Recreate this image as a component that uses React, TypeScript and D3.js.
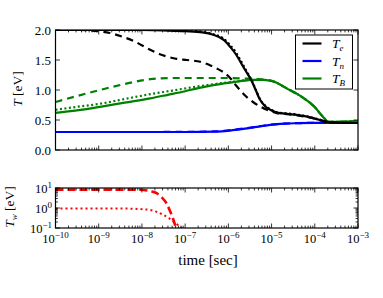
import React from 'react';
import * as d3 from 'd3';

// log10(time [sec]) vs temperature [eV]
const teSolid: [number, number][] = [
  [-10, 2.0], [-9, 2.0], [-8, 2.0], [-7.5, 1.995], [-7, 1.98], [-6.6, 1.96], [-6.35, 1.92],
  [-6.1, 1.83], [-5.96, 1.72], [-5.83, 1.6], [-5.73, 1.48], [-5.6, 1.32], [-5.46, 1.15],
  [-5.35, 0.97], [-5.27, 0.84], [-5.15, 0.73], [-5.03, 0.67], [-4.88, 0.625], [-4.6, 0.6],
  [-4.42, 0.585], [-4.2, 0.56], [-4.04, 0.53], [-3.85, 0.495], [-3.72, 0.47], [-3.5, 0.455], [-3, 0.45],
];
const teDotted: [number, number][] = [
  [-10, 2.0], [-9, 2.0], [-8, 2.0], [-7.5, 2.0], [-7, 1.99], [-6.6, 1.97], [-6.35, 1.93],
  [-6.1, 1.85], [-5.96, 1.75], [-5.83, 1.63], [-5.73, 1.51], [-5.6, 1.34], [-5.46, 1.16],
  [-5.35, 0.98], [-5.27, 0.85], [-5.15, 0.74], [-5.03, 0.68], [-4.88, 0.63], [-4.6, 0.605],
  [-4.42, 0.59], [-4.2, 0.565], [-4.04, 0.535], [-3.85, 0.5], [-3.72, 0.47], [-3.5, 0.455], [-3, 0.45],
];
const teDashed: [number, number][] = [
  [-10, 2.0], [-9.5, 2.0], [-9, 1.98], [-8.74, 1.95], [-8.5, 1.9], [-8.2, 1.82], [-7.81, 1.67],
  [-7.6, 1.6], [-7.43, 1.56], [-7.2, 1.52], [-6.96, 1.5], [-6.65, 1.47], [-6.45, 1.42],
  [-6.27, 1.36], [-6.1, 1.29], [-5.96, 1.2], [-5.85, 1.1], [-5.73, 1.0], [-5.6, 0.9],
  [-5.43, 0.8], [-5.25, 0.72], [-5.11, 0.67], [-4.88, 0.615], [-4.6, 0.595], [-4.3, 0.565],
  [-4.0, 0.525], [-3.75, 0.47], [-3.5, 0.455], [-3, 0.45],
];
const tbSolid: [number, number][] = [
  [-10, 0.62], [-9.5, 0.66], [-8.97, 0.72], [-8.4, 0.79], [-7.81, 0.86], [-7.4, 0.92],
  [-7, 0.98], [-6.7, 1.03], [-6.35, 1.08], [-6.1, 1.11], [-5.8, 1.14], [-5.43, 1.17],
  [-5.2, 1.17], [-5.03, 1.155], [-4.88, 1.12], [-4.73, 1.06], [-4.58, 1.0], [-4.42, 0.94],
  [-4.25, 0.86], [-4.1, 0.78], [-3.98, 0.7], [-3.88, 0.61], [-3.78, 0.53], [-3.69, 0.47],
  [-3.5, 0.47], [-3, 0.48],
];
const tbDashed: [number, number][] = [
  [-10, 0.8], [-9.5, 0.9], [-8.97, 1.0], [-8.4, 1.1], [-7.81, 1.18], [-7.3, 1.2], [-6.5, 1.2],
  [-6, 1.2], [-5.6, 1.19], [-5.3, 1.18], [-5.03, 1.16], [-4.88, 1.12], [-4.73, 1.06],
  [-4.58, 1.0], [-4.42, 0.94], [-4.25, 0.86], [-4.1, 0.78], [-3.98, 0.7], [-3.88, 0.61],
  [-3.78, 0.53], [-3.69, 0.47], [-3.5, 0.47], [-3, 0.48],
];
const tbDotted: [number, number][] = [
  [-10, 0.67], [-9.5, 0.72], [-8.97, 0.77], [-8.4, 0.85], [-7.81, 0.93], [-7.3, 0.99],
  [-6.8, 1.05], [-6.4, 1.09], [-6.1, 1.12], [-5.8, 1.145], [-5.43, 1.17], [-5.2, 1.17],
  [-5.03, 1.155], [-4.88, 1.12], [-4.73, 1.06], [-4.58, 1.0], [-4.42, 0.94], [-4.25, 0.86],
  [-4.1, 0.78], [-3.98, 0.7], [-3.88, 0.61], [-3.78, 0.53], [-3.69, 0.47], [-3.5, 0.47], [-3, 0.48],
];
const tnSolid: [number, number][] = [
  [-10, 0.3], [-8, 0.3], [-7, 0.3], [-6.3, 0.305], [-5.9, 0.33], [-5.57, 0.36], [-5.3, 0.39],
  [-5.03, 0.42], [-4.7, 0.44], [-4.42, 0.447], [-4, 0.452], [-3, 0.455],
];
const tnDashed: [number, number][] = [
  [-10, 0.3], [-8, 0.3], [-7, 0.302], [-6.3, 0.31], [-5.9, 0.335], [-5.57, 0.365], [-5.3, 0.392],
  [-5.03, 0.42], [-4.7, 0.44], [-4.42, 0.447], [-4, 0.452], [-3, 0.455],
];
// log10(time) vs log10(T_w [eV])
const twDashed: [number, number][] = [
  [-10, 0.92], [-9, 0.92], [-8.3, 0.92], [-7.97, 0.9], [-7.8, 0.84], [-7.66, 0.74],
  [-7.55, 0.55], [-7.43, 0.23], [-7.35, -0.15], [-7.27, -0.6], [-7.2, -1.1],
];
const twDotted: [number, number][] = [
  [-10, -0.02], [-9, -0.02], [-8.3, -0.03], [-8, -0.06], [-7.81, -0.1], [-7.65, -0.2],
  [-7.5, -0.35], [-7.38, -0.5], [-7.27, -0.68], [-7.12, -0.93], [-7.0, -1.15],
];

const decades = [-10, -9, -8, -7, -6, -5, -4, -3];
const tempTicks = [0.0, 0.5, 1.0, 1.5, 2.0];
const twDecades = [-1, 0, 1];
const legendItems = [
  { sub: 'e', color: '#000000' },
  { sub: 'n', color: '#0000ff' },
  { sub: 'B', color: '#008000' },
];

const FONT = '"Liberation Serif", "DejaVu Serif", serif';
const L = 55.5, R = 358;
const topY = [30, 150];
const botY = [188, 228];
const LW = 2.2;

const x = d3.scaleLog().domain([1e-10, 1e-3]).range([L, R]);
const yTop = d3.scaleLinear().domain([0, 2]).range([topY[1], topY[0]]);
const yBot = d3.scaleLog().domain([0.1, 10]).range([botY[1], botY[0]]);

const lineTop = d3.line<[number, number]>()
  .x(d => x(Math.pow(10, d[0])))
  .y(d => yTop(d[1]))
  .curve(d3.curveMonotoneX);
const lineBot = d3.line<[number, number]>()
  .x(d => x(Math.pow(10, d[0])))
  .y(d => yBot(Math.pow(10, d[1])))
  .curve(d3.curveMonotoneX);

const minorX: number[] = [];
decades.slice(0, -1).forEach(e => { for (let k = 2; k <= 9; k++) minorX.push(k * Math.pow(10, e)); });
const minorY: number[] = [];
[-1, 0].forEach(e => { for (let k = 2; k <= 9; k++) minorY.push(k * Math.pow(10, e)); });

const fmtSup = (e: number) => (e < 0 ? '\u2212' + Math.abs(e) : String(e));

function XTicks({ y0, y1 }: { y0: number; y1: number }) {
  return (
    <g stroke="#000" strokeWidth={0.8}>
      {decades.map(e => {
        const px = x(Math.pow(10, e));
        return (
          <g key={e}>
            <line x1={px} x2={px} y1={y1} y2={y1 - 4.5} />
            <line x1={px} x2={px} y1={y0} y2={y0 + 4.5} />
          </g>
        );
      })}
      {minorX.map((v, i) => {
        const px = x(v);
        return (
          <g key={i}>
            <line x1={px} x2={px} y1={y1} y2={y1 - 2.4} />
            <line x1={px} x2={px} y1={y0} y2={y0 + 2.4} />
          </g>
        );
      })}
    </g>
  );
}

export default function App() {
  return (
    <svg width={383} height={298} style={{ position: 'absolute', left: 0, top: 0, background: '#fff' }}
      fontFamily={FONT}>
      <defs>
        <clipPath id="clipTop"><rect x={L} y={topY[0]} width={R - L} height={topY[1] - topY[0]} /></clipPath>
        <clipPath id="clipBot"><rect x={L} y={botY[0]} width={R - L} height={botY[1] - botY[0]} /></clipPath>
      </defs>

      {/* top panel lines */}
      <g clipPath="url(#clipTop)" fill="none" strokeWidth={LW}>
        <path d={lineTop(tnDashed) || ''} stroke="#0000ff" strokeDasharray="7,5" />
        <path d={lineTop(tnSolid) || ''} stroke="#0000ff" />
        <path d={lineTop(tbDashed) || ''} stroke="#008000" strokeDasharray="7,5" />
        <path d={lineTop(tbDotted) || ''} stroke="#008000" strokeDasharray="2,2.5" />
        <path d={lineTop(tbSolid) || ''} stroke="#008000" />
        <path d={lineTop(teDashed) || ''} stroke="#000" strokeDasharray="7,5" />
        <path d={lineTop(teDotted) || ''} stroke="#000" strokeDasharray="2,2.5" />
        <path d={lineTop(teSolid) || ''} stroke="#000" />
      </g>

      {/* top panel frame and ticks */}
      <XTicks y0={topY[0]} y1={topY[1]} />
      <g stroke="#000" strokeWidth={0.8}>
        {tempTicks.map(t => (
          <g key={t}>
            <line x1={L} x2={L + 4.5} y1={yTop(t)} y2={yTop(t)} />
            <line x1={R} x2={R - 4.5} y1={yTop(t)} y2={yTop(t)} />
          </g>
        ))}
      </g>
      <rect x={L} y={topY[0]} width={R - L} height={topY[1] - topY[0]} fill="none" stroke="#000" strokeWidth={1.2} />
      <g fontSize={13} textAnchor="end" fill="#000">
        {tempTicks.map(t => (
          <text key={t} x={51} y={yTop(t) + 4.5}>{t.toFixed(1)}</text>
        ))}
      </g>
      <text transform="translate(22,89) rotate(-90)" textAnchor="middle" fontSize={13.5}>
        <tspan fontStyle="italic">T</tspan> [eV]
      </text>

      {/* legend */}
      <g>
        <rect x={295.5} y={35} width={57} height={54} fill="#fff" stroke="#000" strokeWidth={1} />
        {legendItems.map((d, i) => {
          const ly = 43.5 + i * 17.5;
          return (
            <g key={d.sub}>
              <line x1={302.5} x2={321.5} y1={ly} y2={ly} stroke={d.color} strokeWidth={LW} />
              <text x={332} y={ly + 4.5} fontSize={13.5} fontStyle="italic">
                T<tspan fontSize={9} dy={3}>{d.sub}</tspan>
              </text>
            </g>
          );
        })}
      </g>

      {/* bottom panel */}
      <g clipPath="url(#clipBot)" fill="none">
        <path d={lineBot(twDotted) || ''} stroke="#ff0000" strokeWidth={2} strokeDasharray="2,3" />
        <path d={lineBot(twDashed) || ''} stroke="#ff0000" strokeWidth={2.6} strokeDasharray="8,4" />
      </g>
      <XTicks y0={botY[0]} y1={botY[1]} />
      <g stroke="#000" strokeWidth={0.8}>
        {twDecades.map(e => {
          const py = yBot(Math.pow(10, e));
          return (
            <g key={e}>
              <line x1={L} x2={L + 4.5} y1={py} y2={py} />
              <line x1={R} x2={R - 4.5} y1={py} y2={py} />
            </g>
          );
        })}
        {minorY.map((v, i) => {
          const py = yBot(v);
          return (
            <g key={i}>
              <line x1={L} x2={L + 2.4} y1={py} y2={py} />
              <line x1={R} x2={R - 2.4} y1={py} y2={py} />
            </g>
          );
        })}
      </g>
      <rect x={L} y={botY[0]} width={R - L} height={botY[1] - botY[0]} fill="none" stroke="#000" strokeWidth={1.2} />
      <g fontSize={12.5} fill="#000">
        {twDecades.map(e => (
          <text key={e} x={52} y={yBot(Math.pow(10, e)) + 4.5} textAnchor="end">
            10<tspan fontSize={9} dy={-5}>{fmtSup(e)}</tspan>
          </text>
        ))}
        {decades.map(e => (
          <text key={e} x={x(Math.pow(10, e))} y={243} textAnchor="middle">
            10<tspan fontSize={9} dy={-5}>{fmtSup(e)}</tspan>
          </text>
        ))}
      </g>
      <text transform="translate(14,207) rotate(-90)" textAnchor="middle" fontSize={13.5}>
        <tspan fontStyle="italic">T</tspan><tspan fontStyle="italic" fontSize={9} dy={3}>w</tspan>
        <tspan dy={-3}> [eV]</tspan>
      </text>
      <text x={208} y={265} textAnchor="middle" fontSize={15}>time [sec]</text>
    </svg>
  );
}
